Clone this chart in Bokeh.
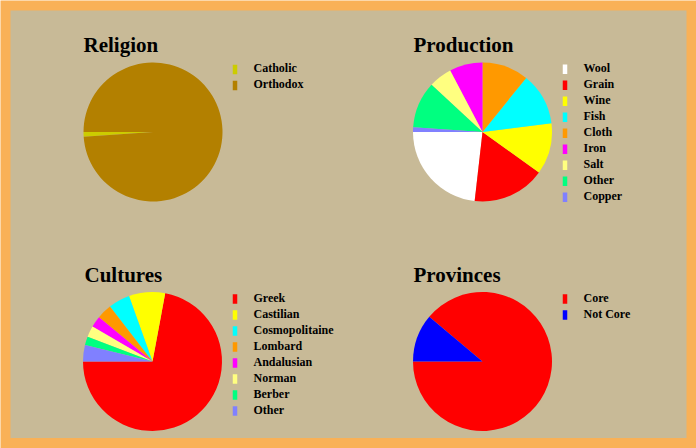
import math
from bokeh.plotting import figure
from bokeh.models import Range1d, ColumnDataSource
from bokeh.core.properties import value
from bokeh.embed import file_html
from bokeh.resources import INLINE

# ---- data ----
religion_labels = ["Catholic", "Orthodox"]
religion_values = [1.1, 98.9]
religion_colors = ["#CCCC00", "#B38000"]

production_labels = ["Wool", "Grain", "Wine", "Fish", "Cloth", "Iron", "Salt", "Other", "Copper"]
production_values = [23.2, 16.9, 11.9, 12.2, 10.8, 7.7, 5.4, 10.8, 1.1]
production_colors = ["#FFFFFF", "#FF0000", "#FFFF00", "#00FFFF", "#FF9900", "#FF00FF", "#FFFF80", "#00FF80", "#8080FF"]

culture_labels = ["Greek", "Castilian", "Cosmopolitaine", "Lombard", "Andalusian", "Norman", "Berber", "Other"]
culture_values = [72.0, 8.4, 5.0, 3.5, 2.6, 2.6, 2.0, 3.8]
culture_colors = ["#FF0000", "#FFFF00", "#00FFFF", "#FF9900", "#FF00FF", "#FFFF80", "#00FF80", "#8080FF"]

province_labels = ["Core", "Not Core"]
province_values = [8, 1]
province_colors = ["#FF0000", "#0000FF"]

W, H = 696, 448

p = figure(width=W, height=H, output_backend="svg", toolbar_location=None,
           x_range=Range1d(0, W), y_range=Range1d(0, H), min_border=0)
p.axis.visible = False
p.grid.visible = False
p.outline_line_color = None
p.background_fill_color = "#F9B157"
p.border_fill_color = "#F9B157"

def Y(v):
    return H - v

# inner parchment panel
p.quad(left=[10], right=[686], top=[Y(10)], bottom=[Y(437.5)], fill_color="#C8BA97", line_color=None)

TITLE_FONT = value("Liberation Serif")
TEXT_SHIFT = 4.5

def pie_panel(title, labels, values, colors, title_x, title_base, cx, cy, leg_sw_x, leg_text_x, leg_base):
    total = float(sum(values))
    starts, ends = [], []
    acc = math.pi
    for v in values:
        a = 2 * math.pi * v / total
        starts.append(acc)
        ends.append(acc + a)
        acc += a
    src = ColumnDataSource(dict(start=starts, end=ends, color=colors))
    p.wedge(x=cx, y=Y(cy), radius=69.5, start_angle="start", end_angle="end",
            direction="anticlock", fill_color="color", line_color=None, source=src)
    p.text(x=[title_x], y=[Y(title_base - TEXT_SHIFT)], text=[title], text_font=TITLE_FONT,
           text_font_style="bold", text_font_size="21px", text_color="#000000",
           text_baseline="alphabetic", text_align="left")
    n = len(labels)
    ys = [Y(leg_base - TEXT_SHIFT + 16 * i) for i in range(n)]
    sw_ys = [Y(leg_base - 3.2 + 16 * i) for i in range(n)]
    p.rect(x=[leg_sw_x] * n, y=sw_ys, width=4.5, height=9.5, fill_color=colors, line_color=None)
    p.text(x=[leg_text_x] * n, y=ys, text=labels, text_font=TITLE_FONT,
           text_font_style="bold", text_font_size="12px", text_color="#000000",
           text_baseline="alphabetic", text_align="left")

pie_panel("Religion", religion_labels, religion_values, religion_colors,
          83, 48.5, 152.5, 131.5, 234.5, 253, 72.3)
pie_panel("Production", production_labels, production_values, production_colors,
          413, 48.5, 482, 131.5, 564.5, 583, 72.0)
pie_panel("Cultures", culture_labels, culture_values, culture_colors,
          84, 278.5, 152, 361, 234.5, 253, 301.7)
pie_panel("Provinces", province_labels, province_values, province_colors,
          413, 278.5, 482, 361, 564.5, 583, 301.7)

open("out.html", "w").write(file_html(p, INLINE))
